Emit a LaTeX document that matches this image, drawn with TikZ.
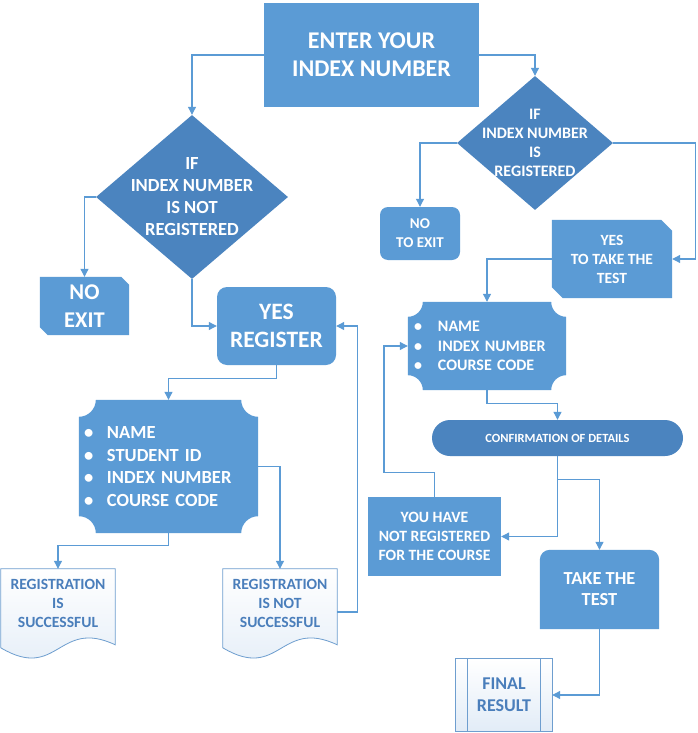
\documentclass[tikz,border=0pt]{standalone}
\usepackage{fontspec}
\setmainfont{Carlito}
\usetikzlibrary{shapes.geometric,arrows.meta,calc}
\definecolor{mainblue}{HTML}{5B9BD5}
\definecolor{darkblue}{HTML}{4B84BF}
\definecolor{linec}{HTML}{5B9BD5}
\definecolor{lightedge}{HTML}{6E9ECF}
\definecolor{lighttext}{HTML}{4A7EBB}
\definecolor{lightfill}{HTML}{E2ECF7}
\pgfdeclarelayer{bg}
\pgfsetlayers{bg,main}
\newcommand\fsz[2]{\bfseries\fontsize{#1}{#2}\selectfont}
\tikzset{
  box/.style={rectangle, inner sep=0pt, align=center, text=white},
  lbox/.style={rectangle, inner sep=0pt, align=center, text=lighttext},
  arr/.style={draw=linec, line width=1.1pt, -{Triangle[length=8pt,width=8pt]}},
  conn/.style={draw=linec, line width=1.1pt},
  lightshape/.style={draw=lightedge, line width=0.8pt, top color=white, bottom color=lightfill},
}
\begin{document}
\begin{tikzpicture}[x=1pt,y=-1pt]
\useasboundingbox (0,0) rectangle (697,733);
\begin{pgfonlayer}{bg}
  \fill[white] (0,0) rectangle (697,733);
\end{pgfonlayer}

% ---------- nodes ----------
\node[box, fill=mainblue, minimum width=215pt, minimum height=104pt, font=\fsz{24}{28}] (top) at (371.5,55) {ENTER YOUR\\INDEX NUMBER};

\node[diamond, fill=darkblue, inner sep=0pt, minimum width=192pt, minimum height=164pt] (d1) at (192,197) {};
\node[box, font=\fsz{18.5}{22}] (d1text) at (d1.center) {IF\\INDEX NUMBER\\IS NOT\\REGISTERED};

\node[diamond, fill=darkblue, inner sep=0pt, minimum width=156pt, minimum height=134pt] (d2) at (535,143) {};
\node[box, font=\fsz{16}{19}] (d2text) at (d2.center) {IF\\INDEX NUMBER\\IS\\REGISTERED};

\node[box, minimum width=89pt, minimum height=58pt, font=\fsz{22.5}{28}] (noexit) at (84.5,306) {NO\\EXIT};
\node[box, fill=mainblue, rounded corners=10pt, minimum width=119pt, minimum height=78pt, font=\fsz{23.5}{28}] (yesreg) at (276.5,326) {YES\\REGISTER};

\node[box, align=left, minimum width=179pt, minimum height=133pt, text width=169pt, inner xsep=5pt, font=\fsz{18.5}{22.6}] (list1) at (168.5,466.5)
  {\makebox[23pt][l]{\textbullet}NAME\\\makebox[23pt][l]{\textbullet}STUDENT ID\\\makebox[23pt][l]{\textbullet}INDEX NUMBER\\\makebox[23pt][l]{\textbullet}COURSE CODE};

\node[lbox, minimum width=114pt, minimum height=68pt, font=\fsz{15.6}{19}] (regsucc) at (58,603) {REGISTRATION\\IS\\SUCCESSFUL};
\node[lbox, minimum width=114pt, minimum height=68pt, font=\fsz{15.6}{19}] (regnot) at (280,603) {REGISTRATION\\IS NOT\\SUCCESSFUL};

\node[box, fill=mainblue, rounded corners=8pt, minimum width=80pt, minimum height=53pt, font=\fsz{15}{19}] (noto) at (420,233.5) {NO\\TO EXIT};
\node[box, minimum width=120pt, minimum height=78pt, font=\fsz{15.6}{19}] (yestake) at (612,259) {YES\\TO TAKE THE\\TEST};

\node[box, align=left, minimum width=158pt, minimum height=88pt, text width=146pt, inner xsep=6pt, font=\fsz{16}{19.5}] (list2) at (487,346)
  {\makebox[24pt][l]{\textbullet}NAME\\\makebox[24pt][l]{\textbullet}INDEX NUMBER\\\makebox[24pt][l]{\textbullet}COURSE CODE};

\node[box, fill=darkblue, rounded corners=18pt, minimum width=251pt, minimum height=36pt, font=\fsz{12.5}{15}] (conf) at (557.5,438) {CONFIRMATION OF DETAILS};

\node[box, fill=mainblue, minimum width=133pt, minimum height=79pt, font=\fsz{15.7}{19}] (youhave) at (434.5,536.5) {YOU HAVE\\NOT REGISTERED\\FOR THE COURSE};
\node[box, minimum width=119pt, minimum height=79pt, font=\fsz{18.4}{21}] (take) at (599.5,589.5) {TAKE THE\\TEST};
\node[lbox, minimum width=96pt, minimum height=72pt, font=\fsz{18}{22}] (final) at (504,695) {FINAL\\RESULT};

% ---------- shapes drawn behind the texts ----------
\begin{pgfonlayer}{bg}
  % snipped boxes
  \fill[mainblue] (noexit.north west) -- ($(noexit.north east)+(-8,0)$) -- ($(noexit.north east)+(0,8)$)
     -- (noexit.south east) -- ($(noexit.south west)+(8,0)$) -- ($(noexit.south west)+(0,-8)$) -- cycle;
  \fill[mainblue] (yestake.north west) -- ($(yestake.north east)+(-11,0)$) -- ($(yestake.north east)+(0,11)$)
     -- (yestake.south east) -- ($(yestake.south west)+(11,0)$) -- ($(yestake.south west)+(0,-11)$) -- cycle;
  % plaque (concave corner) boxes
  \fill[mainblue] ($(list1.north west)+(17,0)$) -- ($(list1.north east)+(-17,0)$)
     .. controls +(0,9.4) and +(-9.4,0) .. ($(list1.north east)+(0,17)$)
     -- ($(list1.south east)+(0,-17)$)
     .. controls +(-9.4,0) and +(0,-9.4) .. ($(list1.south east)+(-17,0)$)
     -- ($(list1.south west)+(17,0)$)
     .. controls +(0,-9.4) and +(9.4,0) .. ($(list1.south west)+(0,-17)$)
     -- ($(list1.north west)+(0,17)$)
     .. controls +(9.4,0) and +(0,9.4) .. cycle;
  \fill[mainblue] ($(list2.north west)+(15,0)$) -- ($(list2.north east)+(-15,0)$)
     .. controls +(0,8.3) and +(-8.3,0) .. ($(list2.north east)+(0,15)$)
     -- ($(list2.south east)+(0,-15)$)
     .. controls +(-8.3,0) and +(0,-8.3) .. ($(list2.south east)+(-15,0)$)
     -- ($(list2.south west)+(15,0)$)
     .. controls +(0,-8.3) and +(8.3,0) .. ($(list2.south west)+(0,-15)$)
     -- ($(list2.north west)+(0,15)$)
     .. controls +(8.3,0) and +(0,8.3) .. cycle;
  % document shapes
  \path[lightshape] (regsucc.north west) -- (regsucc.north east) -- ($(regsucc.north east)+(0,76)$)
     .. controls ($(regsucc.north)+(0,49)$) and ($(regsucc.north)+(0,113)$) .. ($(regsucc.north west)+(0,79)$) -- cycle;
  \path[lightshape] (regnot.north west) -- (regnot.north east) -- ($(regnot.north east)+(0,76)$)
     .. controls ($(regnot.north)+(0,49)$) and ($(regnot.north)+(0,113)$) .. ($(regnot.north west)+(0,79)$) -- cycle;
  % take the test: rounded top corners
  \fill[mainblue] (take.south west) -- ($(take.north west)+(0,10)$)
     .. controls +(0,-5.5) and +(-5.5,0) .. ($(take.north west)+(10,0)$)
     -- ($(take.north east)+(-10,0)$)
     .. controls +(5.5,0) and +(0,-5.5) .. ($(take.north east)+(0,10)$)
     -- (take.south east) -- cycle;
  % predefined process
  \path[lightshape] (final.north west) rectangle (final.south east);
  \draw[lightedge, line width=0.8pt] ($(final.north west)+(12,0)$) -- ($(final.south west)+(12,0)$);
  \draw[lightedge, line width=0.8pt] ($(final.north east)+(-12,0)$) -- ($(final.south east)+(-12,0)$);
\end{pgfonlayer}

% ---------- connectors ----------
\draw[arr] (top.west) -| (d1.north);
\draw[arr] (top.east) -| (d2.north);
\draw[arr] (d1.west) -| (noexit.north);
\draw[arr] (d1.south) |- (yesreg.west);
\draw[arr] (d2.west) -| (noto.north);
\draw[arr] (d2.east) -- ++(82,0) |- (yestake.east);
\draw[arr] (yestake.west) -| (list2.north);
\draw[arr] (yesreg.south) -- ++(0,13) -| (list1.north);
\draw[arr] (list1.south) -- ++(0,12) -| (regsucc.north);
\draw[arr] (list1.east) -| (regnot.north);
\draw[arr] ($(regnot.east)+(0,9)$) -- ++(20,0) |- (yesreg.east);
\draw[arr] (list2.south) -- ++(0,13) -| (conf.north);
\draw[arr] (conf.south) |- (youhave.east);
\draw[arr] ($(conf.south)+(0,23)$) -| (take.north);
\draw[arr] (youhave.north) -- ++(0,-24) -- ++(-50.5,0) |- (list2.west);
\draw[arr] (take.south) |- (final.east);
\end{tikzpicture}
\end{document}
